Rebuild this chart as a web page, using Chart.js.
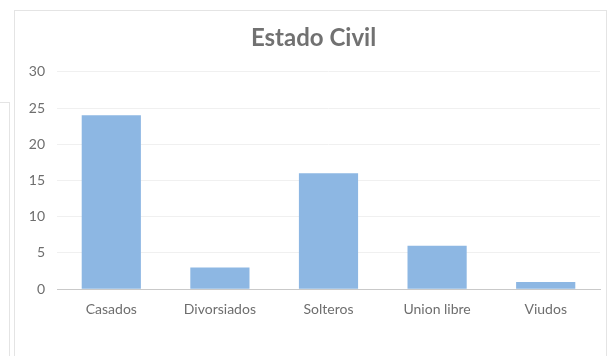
<!DOCTYPE html>
<html>
<head>
<meta charset="utf-8">
<script src="https://cdn.jsdelivr.net/npm/chart.js@4/dist/chart.umd.min.js"></script>
<style>
  html, body { margin: 0; padding: 0; background: #ffffff; }
  body { width: 611px; height: 356px; position: relative; overflow: hidden; }
  .frame { position: absolute; left: 14px; top: 10px; width: 593px; height: 400px;
           border: 1px solid #e4e4e4; box-sizing: border-box; }
  .side { position: absolute; left: -2px; top: 102px; width: 12px; height: 300px;
          border-top: 1px solid #e4e4e4; border-right: 1px solid #e4e4e4; box-sizing: border-box; }
  #wrap { position: absolute; left: 0; top: 0; width: 611px; height: 356px; }
</style>
</head>
<body>
<div class="side"></div>
<div class="frame"></div>
<div id="wrap"><canvas id="chart"></canvas></div>
<script>
// Estado civil: número de personas por categoría
const categories = ['Casados', 'Divorsiados', 'Solteros', 'Union libre', 'Viudos'];
const counts = [24, 3, 16, 6, 1];
const yTicks = [0, 5, 10, 15, 20, 25, 30];

const textColor = '#6e6e6e';
const fontFamily = 'Lato, "Open Sans", sans-serif';

new Chart(document.getElementById('chart'), {
  type: 'bar',
  data: {
    labels: categories,
    datasets: [{
      label: 'Estado Civil',
      data: counts,
      backgroundColor: '#8db7e3',
      borderWidth: 0,
      barPercentage: 0.545,
      categoryPercentage: 1.0
    }]
  },
  options: {
    responsive: true,
    maintainAspectRatio: false,
    animation: false,
    devicePixelRatio: 1,
    layout: { padding: { left: 27, right: 11, top: 0, bottom: 26 } },
    plugins: {
      legend: { display: false },
      tooltip: { enabled: false },
      title: {
        display: true,
        text: 'Estado Civil',
        color: '#717171',
        font: { family: fontFamily, size: 24, weight: 'bold' },
        padding: { top: 24, bottom: 19 }
      }
    },
    scales: {
      x: {
        grid: { display: false, drawTicks: false },
        border: { display: true, color: '#c9c9c9', width: 1 },
        ticks: { color: textColor, font: { family: fontFamily, size: 14 }, padding: 12 }
      },
      y: {
        min: 0,
        max: 30,
        afterBuildTicks: (axis) => { axis.ticks = yTicks.map(v => ({ value: v })); },
        afterFit: (axis) => { axis.width = 30; },
        grid: { color: '#f0f0f0', drawTicks: false },
        border: { display: false },
        ticks: { color: textColor, font: { family: fontFamily, size: 14 }, padding: 12 }
      }
    }
  }
});
</script>
</body>
</html>
